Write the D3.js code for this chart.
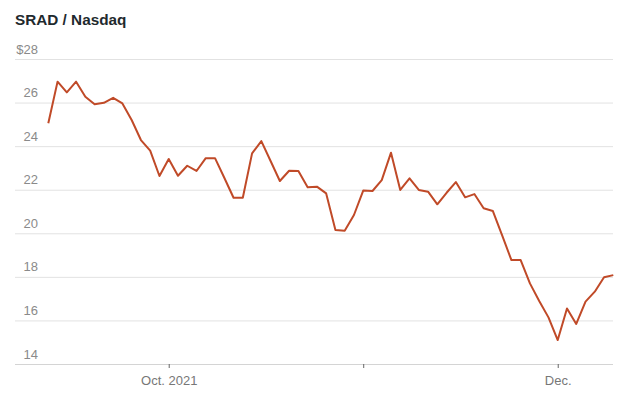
<!DOCTYPE html>
<html>
<head>
<meta charset="utf-8">
<script src="https://cdn.jsdelivr.net/npm/d3@7"></script>
<style>
  body { margin: 0; background: #fff; }
  svg text { font-family: "Liberation Sans", Arial, sans-serif; }
</style>
</head>
<body>
<script>
(function() {

    const width = 629;
    const height = 397;

    // trading days shown on the chart
    const dates = [
        "2021-09-14", "2021-09-15", "2021-09-16", "2021-09-17", "2021-09-20", "2021-09-21", "2021-09-22",
        "2021-09-23", "2021-09-24", "2021-09-27", "2021-09-28", "2021-09-29", "2021-09-30",
        "2021-10-01", "2021-10-04", "2021-10-05", "2021-10-06", "2021-10-07", "2021-10-08", "2021-10-11",
        "2021-10-12", "2021-10-13", "2021-10-14", "2021-10-15", "2021-10-18", "2021-10-19", "2021-10-20",
        "2021-10-21", "2021-10-22", "2021-10-25", "2021-10-26", "2021-10-27", "2021-10-28", "2021-10-29",
        "2021-11-01", "2021-11-02", "2021-11-03", "2021-11-04", "2021-11-05", "2021-11-08", "2021-11-09",
        "2021-11-10", "2021-11-11", "2021-11-12", "2021-11-15", "2021-11-16", "2021-11-17", "2021-11-18",
        "2021-11-19", "2021-11-22", "2021-11-23", "2021-11-24", "2021-11-26", "2021-11-29", "2021-11-30",
        "2021-12-01", "2021-12-02", "2021-12-03", "2021-12-06", "2021-12-07", "2021-12-08", "2021-12-09"
    ];

    // closing price
    const prices = [
        25.05, 26.96, 26.47, 26.96, 26.27, 25.92, 25.99, 26.22, 25.96, 25.2, 24.28, 23.79, 22.63,
        23.41, 22.64, 23.1, 22.86, 23.45, 23.45, 22.55, 21.63, 21.63, 23.67, 24.23, 23.32, 22.4,
        22.87, 22.86, 22.11, 22.14, 21.83, 20.15, 20.12, 20.84,
        21.96, 21.94, 22.44, 23.7, 21.99, 22.52, 21.99, 21.91, 21.33, 21.86, 22.35, 21.65, 21.8,
        21.15, 21.02, 19.9, 18.77, 18.77, 17.7, 16.89, 16.14,
        15.1, 16.55, 15.84, 16.86, 17.32, 17.98, 18.08
    ];

    const yTicks = [14, 16, 18, 20, 22, 24, 26, 28];
    const xTickDates = ["2021-10-01", "2021-11-01", "2021-12-01"];
    const xTickLabels = ["Oct. 2021", "", "Dec."];

    const gridLeft = 15;
    const gridRight = 613;

    let svg = d3.select("body").append("svg")
        .attr("width", width)
        .attr("height", height);

    // title
    svg.append("text")
        .attr("x", 15)
        .attr("y", 25)
        .style("font-size", "15.3px")
        .style("font-weight", "bold")
        .style("fill", "#1f2a2e")
        .text("SRAD / Nasdaq");

    // x is the trading-day index, so days are evenly spaced
    let xScale = d3.scaleLinear()
        .domain([0, dates.length - 1])
        .range([48.3, 613.3]);

    let yScale = d3.scaleLinear()
        .domain([14, 28])
        .range([364, 59]);

    // y gridlines + labels sitting above them
    let yAxis = d3.axisLeft(yScale)
        .tickValues(yTicks)
        .tickSize(gridRight - gridLeft)
        .tickFormat((d) => d === 28 ? "$" + d : d);

    let yG = svg.append("g")
        .attr("transform", "translate(" + gridRight + ",0)")
        .call(yAxis);
    yG.select(".domain").remove();
    yG.selectAll(".tick line")
        .attr("stroke", "#e2e2e2")
        .attr("stroke-width", 1);
    yG.selectAll(".tick text")
        .attr("x", 38 - gridRight)
        .attr("dy", -6)
        .attr("text-anchor", "end")
        .style("font-size", "13px")
        .style("fill", "#8a8a8a");
    yG.selectAll(".tick")
        .filter((d) => d === 14)
        .select("line")
        .attr("stroke", "#d4d4d4");

    // x axis ticks
    let xAxis = d3.axisBottom(xScale)
        .tickValues(xTickDates.map((d) => dates.indexOf(d)))
        .tickSize(4)
        .tickPadding(8)
        .tickFormat((d, i) => xTickLabels[i]);

    let xG = svg.append("g")
        .attr("transform", "translate(0,364)")
        .call(xAxis);
    xG.select(".domain").remove();
    xG.selectAll(".tick line")
        .attr("stroke", "#666")
        .attr("stroke-width", 1);
    xG.selectAll(".tick text")
        .style("font-size", "13px")
        .style("fill", "#777");

    // price line
    let line = d3.line()
        .x((d, i) => xScale(i))
        .y((d) => yScale(d));

    svg.append("path")
        .datum(prices)
        .attr("d", line)
        .attr("fill", "none")
        .attr("stroke", "#c04a28")
        .attr("stroke-width", 2)
        .attr("stroke-linejoin", "round");

})();
</script>
</body>
</html>
